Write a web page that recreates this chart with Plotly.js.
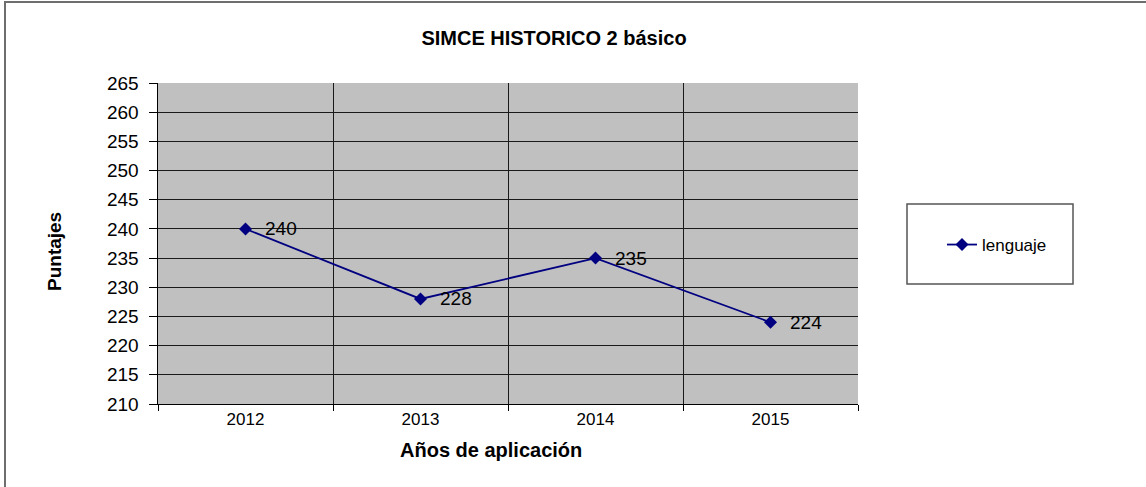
<!DOCTYPE html>
<html>
<head>
<meta charset="utf-8">
<script src="https://cdn.plot.ly/plotly-3.0.1.min.js"></script>
<style>
  html, body { margin: 0; padding: 0; background: #fff; }
  #wrap { position: relative; width: 1146px; height: 487px; }
  #chart { width: 1146px; height: 487px; }
  #frame { position: absolute; left: 4px; top: 1px; width: 1142px; height: 486px;
           border-top: 2px solid #6e6e6e; border-left: 2px solid #6e6e6e; pointer-events: none; }
</style>
</head>
<body>
<div id="wrap"><div id="chart"></div><div id="frame"></div></div>
<script>
const years = ['2012', '2013', '2014', '2015'];
const lenguaje = [240, 228, 235, 224];
const seriesName = 'lenguaje';
const chartTitle = 'SIMCE HISTORICO 2 básico';
const xTitle = 'Años de aplicación';
const yTitle = 'Puntajes';

const FONT = 'Liberation Sans, Arial, sans-serif';
const lineColor = '#000080';

const trace = {
  x: years,
  y: lenguaje,
  type: 'scatter',
  mode: 'lines+markers',
  name: seriesName,
  line: { color: lineColor, width: 1.8 },
  marker: { symbol: 'diamond', size: 10, color: lineColor },
  cliponaxis: false
};

// category axis: annotation x uses the category's serial index
const labelAnnotations = years.map((yr, i) => ({
  x: i, y: lenguaje[i], xref: 'x', yref: 'y',
  text: String(lenguaje[i]),
  showarrow: false, xanchor: 'left', yanchor: 'middle',
  xshift: 17,
  font: { family: FONT, size: 19, color: '#000' }
}));

const layout = {
  width: 1146, height: 487,
  margin: { l: 158, r: 288, t: 83, b: 83 },
  paper_bgcolor: '#ffffff',
  plot_bgcolor: '#c0c0c0',
  font: { family: FONT, color: '#000' },
  title: {
    text: '<b>' + chartTitle + '</b>',
    font: { family: FONT, size: 20, color: '#000' },
    x: 554 / 1146, xref: 'container', xanchor: 'center',
    y: 1 - 38 / 487, yref: 'container', yanchor: 'middle'
  },
  xaxis: {
    type: 'category',
    range: [-0.5, 3.5],
    tickson: 'boundaries',
    ticks: 'outside', ticklen: 6, tickcolor: '#000', tickwidth: 1,
    showgrid: true, gridcolor: '#1a1a1a', gridwidth: 1,
    showline: true, linecolor: '#000', linewidth: 1,
    tickfont: { family: FONT, size: 17, color: '#000' },
    fixedrange: true
  },
  yaxis: {
    range: [210, 265],
    tick0: 210, dtick: 5,
    ticks: 'outside', ticklen: 8, tickcolor: '#000', tickwidth: 1,
    ticklabelstandoff: 6,
    showgrid: true, gridcolor: '#1a1a1a', gridwidth: 1,
    showline: true, linecolor: '#000', linewidth: 1.5,
    zeroline: false,
    tickfont: { family: FONT, size: 19, color: '#000' },
    fixedrange: true
  },
  showlegend: true,
  legend: {
    x: (942 - 158) / 700, xanchor: 'left',
    y: (404 - 245) / 321, yanchor: 'middle',
    bgcolor: 'rgba(0,0,0,0)', borderwidth: 0,
    font: { family: FONT, size: 17, color: '#000' }
  },
  shapes: [{
    type: 'rect', xref: 'paper', yref: 'paper',
    x0: (907 - 158) / 700, x1: (1073 - 158) / 700,
    y0: (404 - 284) / 321, y1: (404 - 204) / 321,
    line: { color: '#555', width: 1.5 }, fillcolor: 'rgba(0,0,0,0)'
  }],
  annotations: labelAnnotations.concat([
    {
      text: '<b>' + xTitle + '</b>', showarrow: false,
      xref: 'paper', yref: 'paper',
      x: (491 - 158) / 700, y: (404 - 450) / 321,
      xanchor: 'center', yanchor: 'middle',
      font: { family: FONT, size: 20, color: '#000' }
    },
    {
      text: '<b>' + yTitle + '</b>', showarrow: false,
      xref: 'paper', yref: 'paper',
      x: (55 - 158) / 700, y: (404 - 252) / 321,
      xanchor: 'center', yanchor: 'middle', textangle: -90,
      font: { family: FONT, size: 19, color: '#000' }
    }
  ])
};

Plotly.newPlot('chart', [trace], layout, { displayModeBar: false, staticPlot: true });
</script>
</body>
</html>
